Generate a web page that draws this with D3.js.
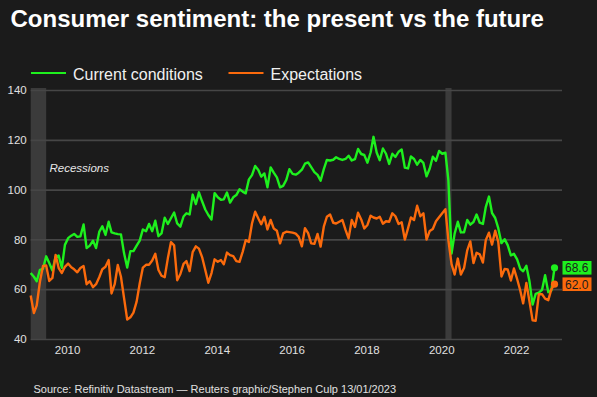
<!DOCTYPE html>
<html>
<head>
<meta charset="utf-8">
<script src="https://cdn.jsdelivr.net/npm/d3@7"></script>
<style>
  body { margin: 0; background: #1b1b1b; }
  svg { display: block; font-family: "Liberation Sans", Arial, sans-serif; }
</style>
</head>
<body>
<script>
// monthly index values, Jan 2009 .. Jan 2023
var startMonth = new Date(2009, 0, 1);

var current = [
  66.5, 65.0, 63.2, 67.8, 68.2, 73.2, 70.5, 67.5, 73.0, 73.5, 68.6, 77.8,   // 2009
  80.5, 81.5, 82.2, 81.0, 81.2, 86.0, 76.5, 77.5, 79.5, 76.5, 83.0, 85.3,   // 2010
  81.8, 87.1, 82.8, 82.4, 82.1, 82.0, 74.5, 68.7, 75.3, 75.3, 77.5, 79.5,   // 2011
  84.0, 83.3, 86.2, 83.3, 87.5, 81.3, 82.4, 88.7, 86.2, 88.5, 90.8, 86.4,   // 2012
  85.1, 89.2, 90.5, 90.0, 98.0, 94.2, 98.9, 95.3, 92.0, 89.8, 88.0, 98.6,   // 2013
  96.9, 95.9, 96.1, 98.8, 94.8, 96.9, 97.8, 100.1, 99.2, 98.5, 104.1, 105.8, // 2014
  109.5, 107.9, 105.2, 106.5, 100.9, 108.9, 106.8, 104.9, 100.9, 101.5, 103.9, 108.2, // 2015
  106.3, 106.0, 106.8, 108.0, 110.4, 110.9, 109.0, 107.0, 105.9, 103.6, 108.2, 111.9, // 2016
  111.7, 112.0, 113.0, 112.3, 111.9, 112.3, 113.6, 111.7, 112.2, 116.3, 114.3, 113.9, // 2017
  110.8, 114.9, 121.2, 114.9, 111.8, 116.5, 114.4, 110.3, 114.4, 113.1, 115.2, 116.1, // 2018
  108.8, 108.5, 113.3, 112.3, 110.0, 111.9, 110.7, 105.3, 108.5, 113.2, 111.6, 115.5, // 2019
  114.4, 114.8, 103.7, 74.3, 82.3, 87.1, 82.8, 82.9, 87.8, 85.9, 87.0, 90.0, // 2020
  86.7, 86.2, 93.0, 97.2, 90.6, 88.6, 84.5, 78.5, 80.1, 77.7, 73.6, 74.2,   // 2021
  72.0, 68.2, 67.2, 69.4, 63.3, 53.8, 58.1, 58.6, 59.7, 65.6, 58.8, 59.4,   // 2022
  68.6                                                                       // 2023
];

var expectations = [
  57.5, 50.4, 53.5, 63.0, 69.3, 69.5, 63.3, 64.5, 73.8, 68.5, 66.5, 69.0,   // 2009
  70.3, 68.8, 68.0, 66.8, 68.5, 69.3, 62.0, 63.2, 60.8, 62.0, 64.8, 68.0,   // 2010
  69.0, 71.7, 58.3, 62.0, 69.7, 65.0, 56.5, 47.8, 48.7, 50.6, 55.0, 62.3,   // 2011
  68.7, 69.8, 69.8, 71.5, 74.2, 67.7, 65.4, 64.8, 72.5, 78.9, 77.6, 63.6,   // 2012
  66.1, 70.2, 71.3, 67.3, 74.9, 77.2, 76.3, 72.9, 67.7, 62.6, 66.5, 72.0,   // 2013
  71.0, 71.7, 70.0, 74.7, 73.7, 73.3, 71.3, 71.0, 75.0, 79.7, 79.0, 86.4,   // 2014
  91.1, 88.4, 86.1, 89.1, 84.0, 87.8, 84.4, 83.5, 78.4, 82.4, 83.1, 82.9,   // 2015
  82.7, 82.3, 81.0, 77.2, 84.5, 82.5, 78.4, 78.2, 82.2, 77.1, 85.1, 89.1,   // 2016
  90.0, 86.7, 86.4, 87.1, 87.8, 83.8, 80.4, 87.8, 85.0, 90.7, 88.0, 84.4,   // 2017
  85.8, 89.5, 88.8, 88.4, 89.1, 86.3, 87.3, 87.1, 90.5, 89.3, 86.2, 86.9,   // 2018
  79.9, 84.4, 88.8, 87.8, 93.5, 89.3, 90.5, 79.9, 83.4, 84.2, 87.3, 88.9,   // 2019
  90.5, 92.1, 79.7, 70.1, 65.9, 72.3, 65.9, 68.5, 75.6, 79.2, 70.5, 74.6,   // 2020
  74.0, 70.7, 79.7, 82.7, 77.9, 83.5, 79.0, 65.1, 68.1, 67.9, 63.5, 68.3,   // 2021
  64.1, 59.4, 54.3, 62.5, 55.2, 47.5, 47.3, 58.0, 58.0, 56.2, 55.6, 59.9,   // 2022
  62.0                                                                       // 2023
];

var seriesNames = ["Current conditions", "Expectations"];
var seriesColors = ["#1ef01e", "#fb6a0c"];
var yTicks = [40, 60, 80, 100, 120, 140];
var xTickYears = [2010, 2012, 2014, 2016, 2018, 2020, 2022];
var recessions = [["2009-01-01", "2009-06-01"], ["2020-02-01", "2020-04-01"]];

var width = 597, height = 397;
var plotLeft = 30.7, plotRight = 562, plotTop = 90, plotBottom = 339;

var svg = d3.select("body").append("svg")
  .attr("width", width)
  .attr("height", height);

svg.append("rect")
  .attr("width", width)
  .attr("height", height)
  .attr("fill", "#1b1b1b");

var months = current.map(function(d, i) {
  return d3.timeMonth.offset(startMonth, i);
});

var x = d3.scaleTime()
  .domain([startMonth, new Date(2023, 2, 15)])
  .range([plotLeft, plotRight]);

var y = d3.scaleLinear()
  .domain([40, 140])
  .range([plotBottom, plotTop]);

//recession bands
var parse = d3.timeParse("%Y-%m-%d");
svg.selectAll("rect.band")
  .data(recessions)
  .enter()
  .append("rect")
  .attr("class", "band")
  .attr("x", function(d) { return x(parse(d[0])); })
  .attr("width", function(d) { return x(parse(d[1])) - x(parse(d[0])); })
  .attr("y", plotTop - 2)
  .attr("height", plotBottom - plotTop + 3)
  .attr("fill", "#3b3b3b");

//gridlines + y labels
var yAxis = svg.append("g")
  .attr("transform", "translate(" + plotLeft + ",0)")
  .call(d3.axisLeft(y).tickValues(yTicks).tickSize(-(plotRight - plotLeft)).tickPadding(4));
yAxis.select(".domain").remove();
yAxis.selectAll("line").attr("stroke", "#464646").attr("stroke-width", 1.7);
yAxis.selectAll("text")
  .attr("fill", "#e0e0e0")
  .style("font-size", "11.5px")
  .style("font-family", "Liberation Sans, Arial, sans-serif");

var xAxis = svg.append("g")
  .attr("transform", "translate(0," + plotBottom + ")")
  .call(d3.axisBottom(x)
    .tickValues(xTickYears.map(function(yr) { return new Date(yr, 0, 1); }))
    .tickSize(0)
    .tickPadding(7)
    .tickFormat(d3.timeFormat("%Y")));
xAxis.select(".domain").remove();
xAxis.selectAll("text")
  .attr("fill", "#e0e0e0")
  .attr("dx", "-1")
  .style("font-size", "11.5px")
  .style("font-family", "Liberation Sans, Arial, sans-serif");

svg.append("text")
  .attr("x", 49.5)
  .attr("y", 172)
  .attr("fill", "#e6e6e6")
  .style("font-size", "11.5px")
  .style("font-style", "italic")
  .text("Recessions");

//lines
var series = [current, expectations];
var line = d3.line()
  .x(function(d, i) { return x(months[i]); })
  .y(function(d) { return y(d); });

series.forEach(function(values, k) {
  svg.append("path")
    .datum(values)
    .attr("d", line)
    .attr("fill", "none")
    .attr("stroke", seriesColors[k])
    .attr("stroke-width", 2.4)
    .attr("stroke-linejoin", "round");

  var last = values.length - 1;
  svg.append("circle")
    .attr("cx", x(months[last]))
    .attr("cy", y(values[last]))
    .attr("r", 3.6)
    .attr("fill", seriesColors[k]);

  //end value tag
  svg.append("rect")
    .attr("x", plotRight + 0.5)
    .attr("y", y(values[last]) - 6.8)
    .attr("width", 29)
    .attr("height", 13.6)
    .attr("fill", seriesColors[k]);
  svg.append("text")
    .attr("x", plotRight + 3)
    .attr("y", y(values[last]) + 4.3)
    .attr("fill", "#1b1b1b")
    .style("font-size", "12px")
    .text(d3.format(".1f")(values[last]));
});

//legend
var legendX = [31, 228.5];
seriesNames.forEach(function(name, k) {
  svg.append("line")
    .attr("x1", legendX[k])
    .attr("x2", legendX[k] + 35)
    .attr("y1", 73)
    .attr("y2", 73)
    .attr("stroke", seriesColors[k])
    .attr("stroke-width", 2.2);
  svg.append("text")
    .attr("x", legendX[k] + 42)
    .attr("y", 79.5)
    .attr("fill", "#f0f0f0")
    .style("font-size", "16px")
    .text(name);
});

svg.append("text")
  .attr("x", 10.5)
  .attr("y", 27)
  .attr("fill", "#ffffff")
  .style("font-size", "24px")
  .style("font-weight", "bold")
  .text("Consumer sentiment: the present vs the future");

svg.append("text")
  .attr("x", 33.5)
  .attr("y", 393)
  .attr("fill", "#e0e0e0")
  .style("font-size", "11px")
  .text("Source: Refinitiv Datastream \u2014 Reuters graphic/Stephen Culp 13/01/2023");
</script>
</body>
</html>
